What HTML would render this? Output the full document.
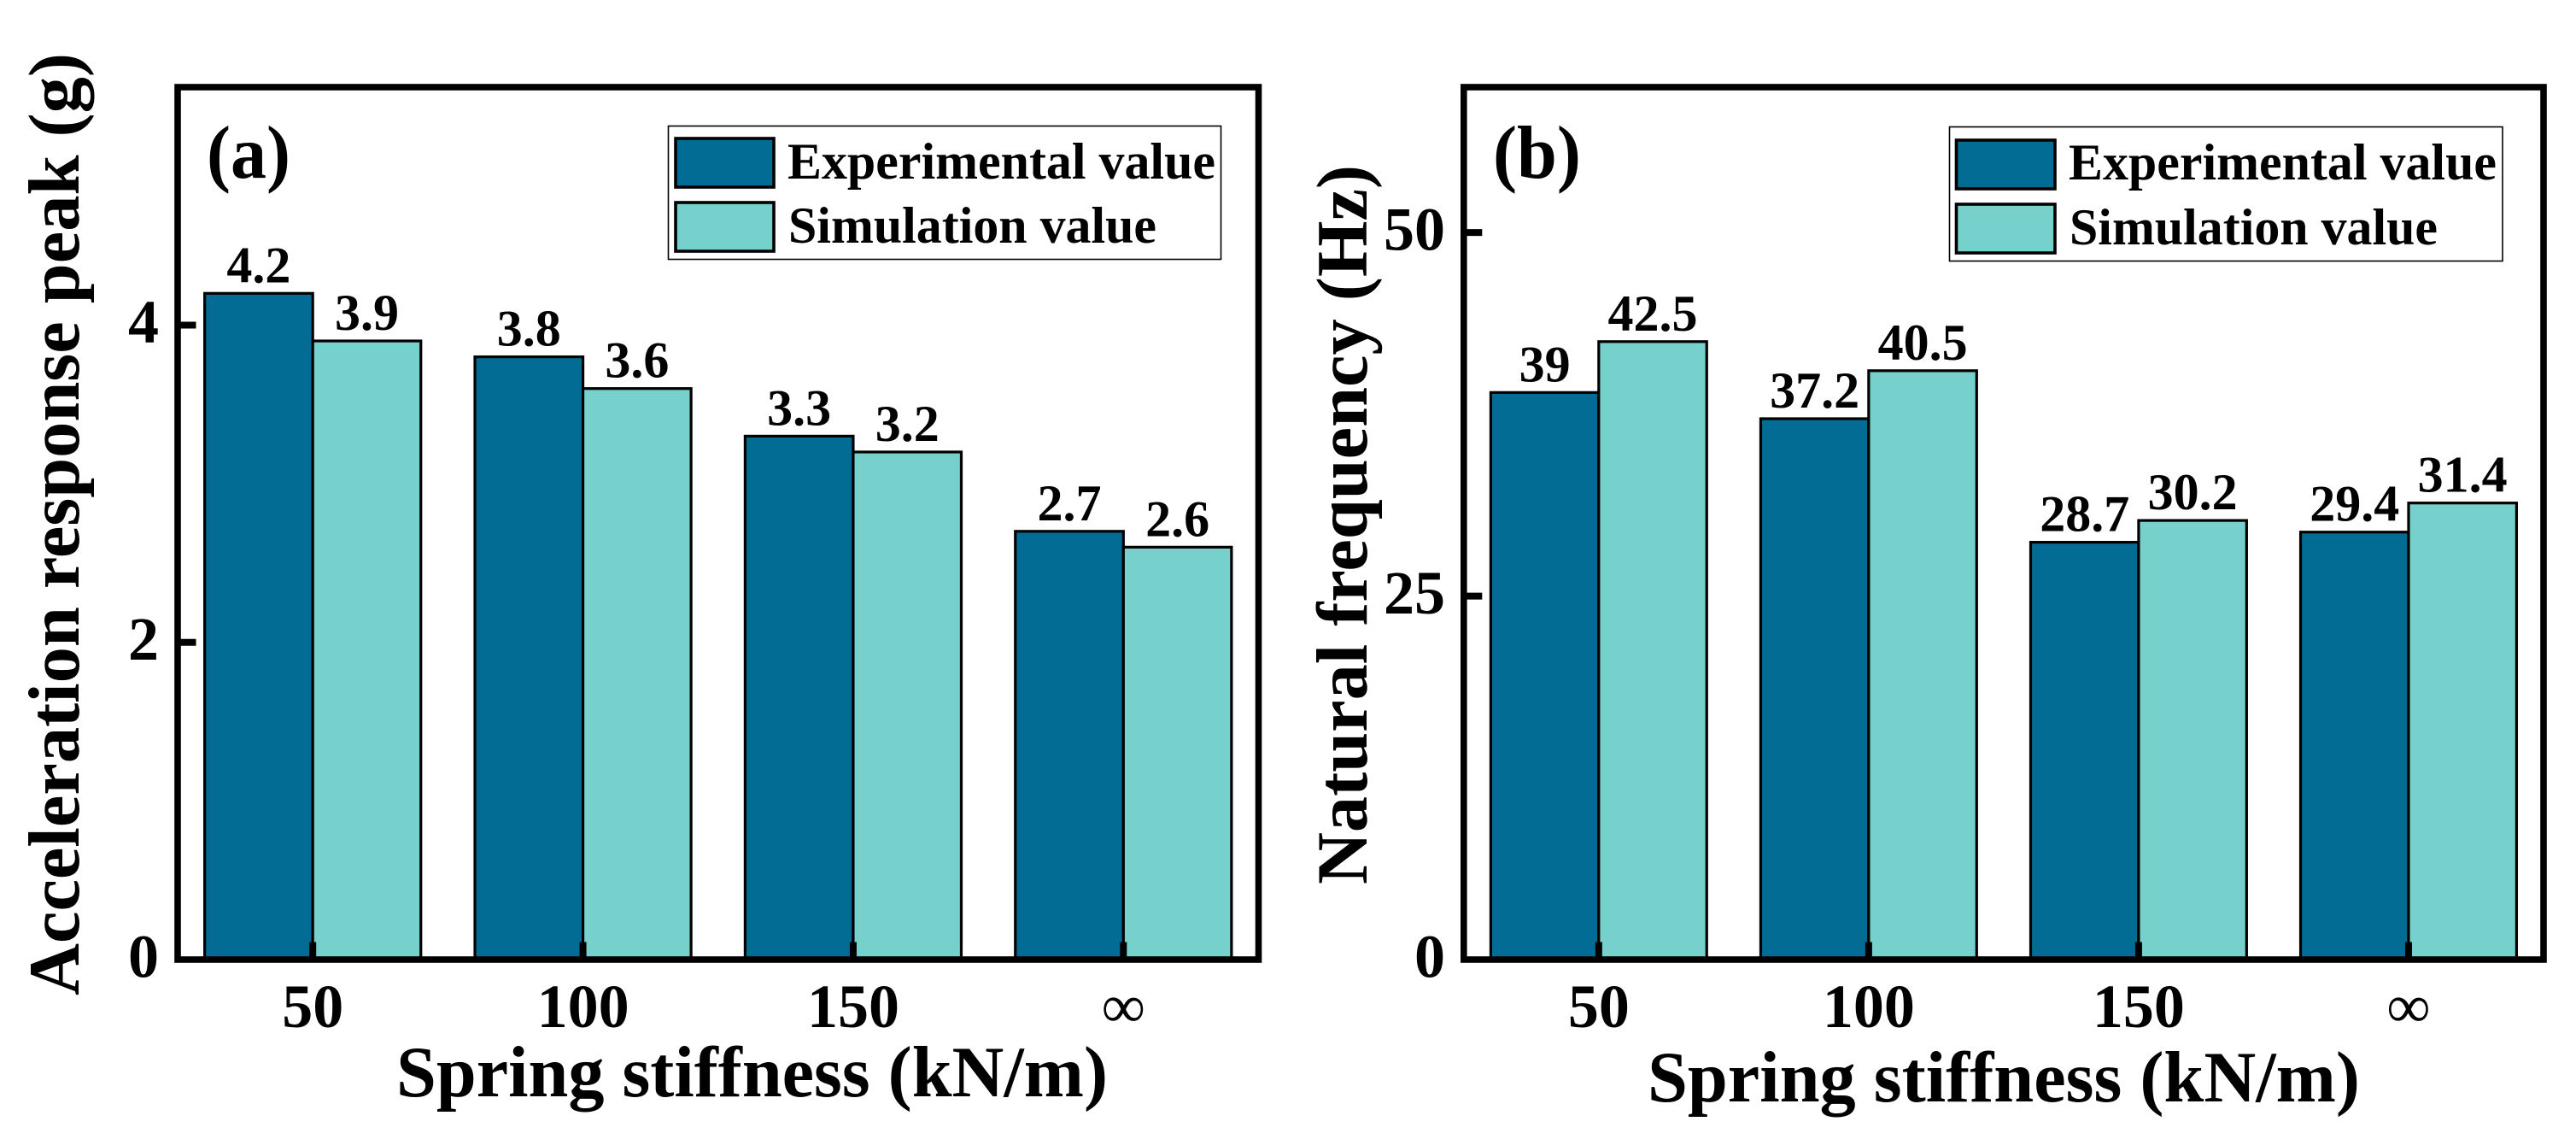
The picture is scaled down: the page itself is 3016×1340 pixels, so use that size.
<!DOCTYPE html>
<html lang="en">
<head>
<meta charset="utf-8">
<title>Spring stiffness charts</title>
<style>
  html, body { margin: 0; padding: 0; background: #ffffff; }
  #figure { display: block; }
  text { font-family: "Liberation Serif", "Times New Roman", serif; font-weight: bold; fill: #000; }
</style>
</head>
<body>
<svg id="figure" xmlns="http://www.w3.org/2000/svg" width="3016" height="1340" viewBox="0 0 3016 1340">
  <rect x="0" y="0" width="3016" height="1340" fill="#ffffff"/>

  <g id="panel-a">
    <g id="marks-a"></g>
    <g id="axes-a"></g>
    <text x="242" y="208" font-size="88" textLength="98" lengthAdjust="spacingAndGlyphs">(a)</text>
    <text transform="translate(92 1165) rotate(-90)" font-size="85" textLength="1103" lengthAdjust="spacingAndGlyphs">Acceleration response peak (g)</text>
    <text x="464" y="1283" font-size="85" textLength="833" lengthAdjust="spacingAndGlyphs">Spring stiffness (kN/m)</text>
    <g>
      <rect x="782.5" y="147.5" width="647" height="156" fill="#ffffff" stroke="#000" stroke-width="1.6"/>
      <rect x="791" y="162" width="115" height="57" fill="#026C94" stroke="#000" stroke-width="3.6"/>
      <text x="922" y="209" font-size="60" textLength="501" lengthAdjust="spacingAndGlyphs">Experimental value</text>
      <rect x="791" y="237" width="115" height="57" fill="#76D0CB" stroke="#000" stroke-width="3.6"/>
      <text x="923" y="284" font-size="60" textLength="431" lengthAdjust="spacingAndGlyphs">Simulation value</text>
    </g>
  </g>

  <g id="panel-b">
    <g id="marks-b"></g>
    <g id="axes-b"></g>
    <text x="1748" y="208" font-size="88" textLength="103" lengthAdjust="spacingAndGlyphs">(b)</text>
    <text transform="translate(1600 1035) rotate(-90)" font-size="85" textLength="842" lengthAdjust="spacingAndGlyphs">Natural frequency (Hz)</text>
    <text x="1929" y="1289" font-size="85" textLength="834" lengthAdjust="spacingAndGlyphs">Spring stiffness (kN/m)</text>
    <g>
      <rect x="2282.5" y="148.5" width="647.5" height="157" fill="#ffffff" stroke="#000" stroke-width="1.6"/>
      <rect x="2290.5" y="164" width="115.5" height="57" fill="#026C94" stroke="#000" stroke-width="3.6"/>
      <text x="2422" y="210" font-size="60" textLength="501" lengthAdjust="spacingAndGlyphs">Experimental value</text>
      <rect x="2290.5" y="239" width="115.5" height="57" fill="#76D0CB" stroke="#000" stroke-width="3.6"/>
      <text x="2423" y="286" font-size="60" textLength="431" lengthAdjust="spacingAndGlyphs">Simulation value</text>
    </g>
  </g>
</svg>

<script>
// Chart data
var categories = ["50", "100", "150", "\u221E"];
var experimentalA = [4.2, 3.8, 3.3, 2.7];
var simulationA = [3.9, 3.6, 3.2, 2.6];
var experimentalB = [39, 37.2, 28.7, 29.4];
var simulationB = [42.5, 40.5, 30.2, 31.4];
var yTicksA = [0, 2, 4];
var yTicksB = [0, 25, 50];
var yMaxA = 5.5;
var yMaxB = 60;

var SVG_NS = "http://www.w3.org/2000/svg";
var COLOR_EXPERIMENTAL = "#026C94";
var COLOR_SIMULATION = "#76D0CB";
var FRAME_TOP = 102;
var FRAME_BOTTOM = 1123;
var FRAME_WIDTH = 7.6;

function makeNode(tag, attrs, text) {
  var el = document.createElementNS(SVG_NS, tag);
  Object.keys(attrs).forEach(function (k) { el.setAttribute(k, attrs[k]); });
  if (text !== undefined) { el.textContent = text; }
  return el;
}

function drawPanel(suffix, left, right, labelRight, expValues, simValues, yTicks, yMax) {
  var marks = document.getElementById("marks-" + suffix);
  var axes = document.getElementById("axes-" + suffix);
  var step = (right - left) / categories.length;
  var barWidth = step * 0.4;

  function xScale(i) { return left + step * (i + 0.5); }
  function yScale(v) { return FRAME_BOTTOM - (v / yMax) * (FRAME_BOTTOM - FRAME_TOP); }

  function drawBar(i, value, offset, fill, seriesName) {
    var top = yScale(value);
    var x = xScale(i) + offset;
    var bar = makeNode("rect", { x: x, y: top, width: barWidth, height: FRAME_BOTTOM - top, fill: fill, stroke: "#000", "stroke-width": 3.2 });
    
    
    marks.appendChild(bar);
    var label = makeNode("text", { x: x + barWidth / 2, y: top - 13, "font-size": 60, "text-anchor": "middle" }, String(value));
    
    
    marks.appendChild(label);
  }

  categories.forEach(function (cat, i) {
    drawBar(i, expValues[i], -barWidth, COLOR_EXPERIMENTAL, 'experimental');
  });
  categories.forEach(function (cat, i) {
    drawBar(i, simValues[i], 0, COLOR_SIMULATION, 'simulation');
  });

  var frame = makeNode("rect", { x: left, y: FRAME_TOP, width: right - left, height: FRAME_BOTTOM - FRAME_TOP, fill: "none", stroke: "#000", "stroke-width": FRAME_WIDTH });
  
  
  axes.appendChild(frame);

  yTicks.forEach(function (v) {
    var y = yScale(v);
    if (v !== 0) {
      var tick = makeNode("line", { x1: left, x2: left + 21.5, y1: y, y2: y, stroke: "#000", "stroke-width": 8 });
      
      
      axes.appendChild(tick);
    }
    var label = makeNode("text", { x: labelRight, y: y + 20.5, "font-size": 72, "text-anchor": "end" }, String(v));
    
    
    axes.appendChild(label);
  });

  categories.forEach(function (cat, i) {
    var x = xScale(i);
    var tick = makeNode("line", { x1: x, x2: x, y1: FRAME_BOTTOM, y2: FRAME_BOTTOM - 20.5, stroke: "#000", "stroke-width": 8 });
    
    
    axes.appendChild(tick);
    var label = makeNode("text", { x: x, y: 1202, "font-size": 72, "text-anchor": "middle" }, cat);
    if (cat === "\u221E") { label.setAttribute("style", "font-weight:normal"); }
    
    
    axes.appendChild(label);
  });
}

drawPanel("a", 208, 1473.5, 186, experimentalA, simulationA, yTicksA, yMaxA);
drawPanel("b", 1713.8, 2978, 1692, experimentalB, simulationB, yTicksB, yMaxB);
</script>
</body>
</html>
